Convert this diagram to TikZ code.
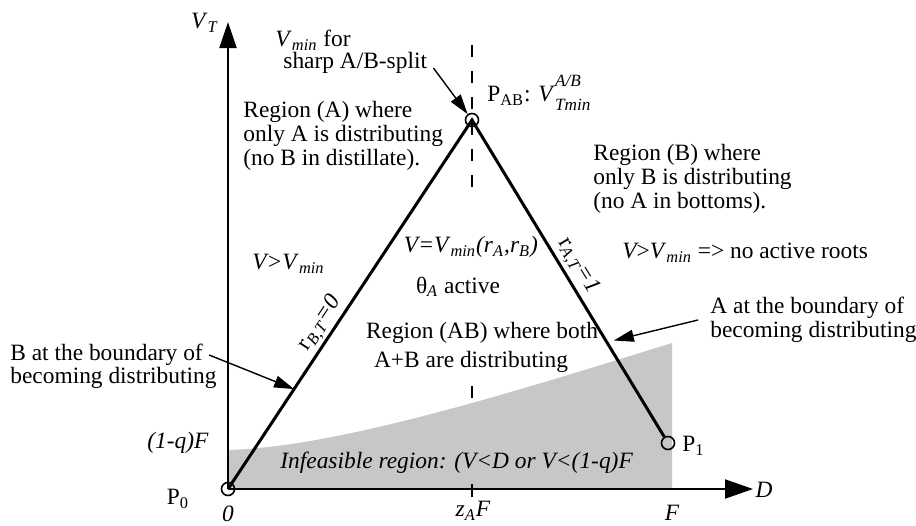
\documentclass[tikz,border=0pt]{standalone}
\usepackage{fontspec}
\setmainfont{Liberation Serif}
\usetikzlibrary{arrows.meta}
\newcommand{\sbs}[1]{\textsubscript{#1}}
\newcommand{\isbs}[1]{\textsubscript{\textit{#1}}}
\newcommand{\smallit}[1]{{\fontsize{8.6}{9}\selectfont\textit{#1}}}
\begin{document}
\begin{tikzpicture}[x=0.5pt,y=-0.5pt,
  txt/.style={inner sep=0pt, font=\fontsize{11.7}{12}\selectfont},
  txtl/.style={txt, align=left, anchor=west},
  axis/.style={line width=1pt},
  edge/.style={line width=1.5pt},
  pt/.style={circle, draw, line width=0.8pt, minimum size=6.5pt, inner sep=0pt},
  arr/.style={line width=0.7pt, -{Triangle[length=10pt,width=6pt]}},
  grayfill/.style={fill=black!22},
  dashline/.style={line width=0.8pt, dash pattern=on 6pt off 7pt}
]
\useasboundingbox (0,0) rectangle (916,525);

% dashed line at z_A F (interrupted behind the central texts)
\draw[dashline] (472,45) -- (472,196);
\draw[dashline] (472,386) -- (472,489);
% infeasible region
\fill[grayfill] (228,489) -- (228,450) .. controls (340,447) and (520,390) .. (672,343) -- (672,489) -- cycle;
\draw[line width=0.8pt] (472,484) -- (472,497);

% axes
\coordinate (ytip) at (228,22);
\coordinate (xtip) at (753,489);
\node[pt] (p0) at (228,489) {};
\node[pt] (pab) at (472,120) {};
\node[pt] (p1) at (668,443) {};
\draw[axis, -{Triangle[length=13pt,width=8.5pt]}] (p0.center) -- (ytip);
\draw[axis, -{Triangle[length=14pt,width=9.5pt]}] (p0.center) -- (xtip);

% boundary lines
\draw[edge] (p0.center) -- (pab.center) -- (p1);
\path (p0) -- (pab) node[txt, pos=0.425, sloped, above=1.5pt] {r\isbs{B,T}\textit{=0}}
  coordinate[pos=0.263] (bt);
\path (pab) -- (p1) node[txt, pos=0.475, sloped, above=2pt] {r\isbs{A,T}\textit{=1}}
  coordinate[pos=0.69] (at);

% axis labels
\node[txt] (vt) at (205,23) {\textit{V}\isbs{T}};
\node[txt] (dlab) at (764,490) {\textit{D}};
\node[txt] (zero) at (228,514) {\textit{0}};
\node[txt] (zaf) at (473,511) {\textit{z}\isbs{A}\textit{F}};
\node[txt] (flab) at (672,513) {\textit{F}};
\node[txt] (oneq) at (178,443) {\textit{(1-q)F}};
\node[txt] (p0lab) at (178,499) {P\sbs{0}};
\node[txt, anchor=west] (p1lab) at (682,446) {P\sbs{1}};
\node[txt, anchor=west] (pablab) at (487,93) {P\sbs{AB}: \textit{V}\rlap{\raisebox{0.62em}{\smallit{A/B}}}\raisebox{-0.38em}{\smallit{Tmin}}};

% V_min annotation
\node[txtl] (vmin1) at (275,40) {\textit{V}\isbs{min} for};
\node[txtl] (vmin2) at (283,63) {sharp A/B-split};
\draw[arr] ([shift={(6,5)}]vmin2.east) -- (pab);

% region texts
\node[txtl] (regA) at (243,136) {Region (A) where\\only A is distributing\\(no B in distillate).};
\node[txtl] (regB) at (593,179) {Region (B) where\\only B is distributing\\(no A in bottoms).};
\node[txtl] (vgtr) at (622,253) {\textit{V{\rm >}V}\isbs{min} => no active roots};
\node[txtl] (vgtl) at (252,264) {\textit{V>V}\isbs{min}};
\node[txt] (veq) at (471,247) {\textit{V=V}\isbs{min}\textit{(r}\isbs{A}\textit{,r}\isbs{B}\textit{)}};
\node[txt] (theta) at (458,287) {θ\isbs{A} active};
\node[txt] (regAB1) at (482,333) {Region (AB) where both};
\node[txt] (regAB2) at (471,362) {A+B are distributing};
\node[txtl] (inf) at (280,463) {\textit{Infeasible region: (V<D or V<(1-q)F}};

% boundary annotations
\node[txtl] (bl1) at (10,355) {B at the boundary of};
\node[txtl] (bl2) at (10,378) {becoming distributing};
\draw[arr] ([xshift=3]bl1.east) -- (bt);
\node[txtl] (atext) at (710,320) {A at the boundary of\\becoming distributing};
\draw[arr] ([xshift=-6]atext.west) -- ([xshift=4]at);
\end{tikzpicture}
\end{document}
